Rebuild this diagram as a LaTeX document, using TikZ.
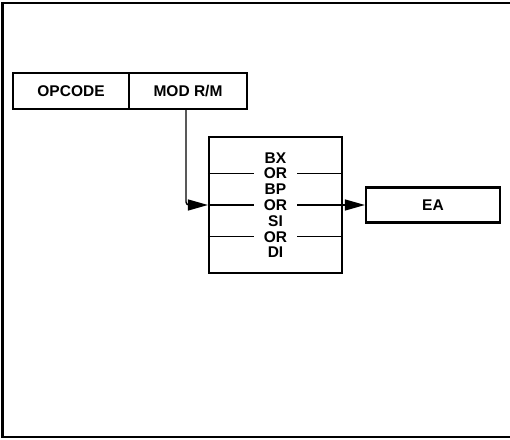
\documentclass[tikz,border=0pt]{standalone}
\usepackage{fontspec}
\setmainfont{Liberation Sans}
\usetikzlibrary{arrows.meta}
\begin{document}
\begin{tikzpicture}[x=1pt,y=-1pt,
  txt/.style={font=\fontsize{15.5}{17}\selectfont\bfseries,text height=11pt,text depth=0pt},
  box/.style={draw,line width=2.2pt,inner sep=0pt,txt},
  lbl/.style={inner sep=0pt,txt},
  conn/.style={line width=1.4pt},
  tip/.style={-{Triangle[length=20pt,width=11pt]}}]
\useasboundingbox (0,0) rectangle (510,439);
% outer frame
\draw[line width=2.2pt] (512,3) -- (2.5,3) -- (2.5,437) -- (512,437);
% instruction fields
\node[box,minimum width=116pt,minimum height=36pt] (opcode) at (71,91) {OPCODE};
\node[box,minimum width=118pt,minimum height=36pt] (modrm) at (188,91) {MOD R/M};
% register selection box
\node[box,minimum width=133pt,minimum height=136pt] (sel) at (275.5,205) {};
\node[lbl] (r1) at (275.5,157.6) {BX};
\node[lbl] (r2) at (275.5,173.4) {OR};
\node[lbl] (r3) at (275.5,189.2) {BP};
\node[lbl] (r4) at (275.5,205) {OR};
\node[lbl] (r5) at (275.5,220.8) {SI};
\node[lbl] (r6) at (275.5,236.6) {OR};
\node[lbl] (r7) at (275.5,252.4) {DI};
% EA box
\node[box,minimum width=134pt,minimum height=35pt] (ea) at (433,205) {EA};
% separator lines
\draw[conn] (sel.west |- r2) -- ([xshift=-10pt]r2.west);
\draw[conn] ([xshift=10pt]r2.east) -- (sel.east |- r2);
\draw[conn] (sel.west |- r6) -- ([xshift=-10pt]r6.west);
\draw[conn] ([xshift=10pt]r6.east) -- (sel.east |- r6);
\draw[conn] (sel.west |- r4) -- ([xshift=-10pt]r4.west);
% connectors
\draw[conn,tip,rounded corners=3pt] ([xshift=-2pt]modrm.south) |- (sel.west |- r4);
\draw[conn,tip] ([xshift=10pt]r4.east) -- (ea.west);
\end{tikzpicture}
\end{document}
